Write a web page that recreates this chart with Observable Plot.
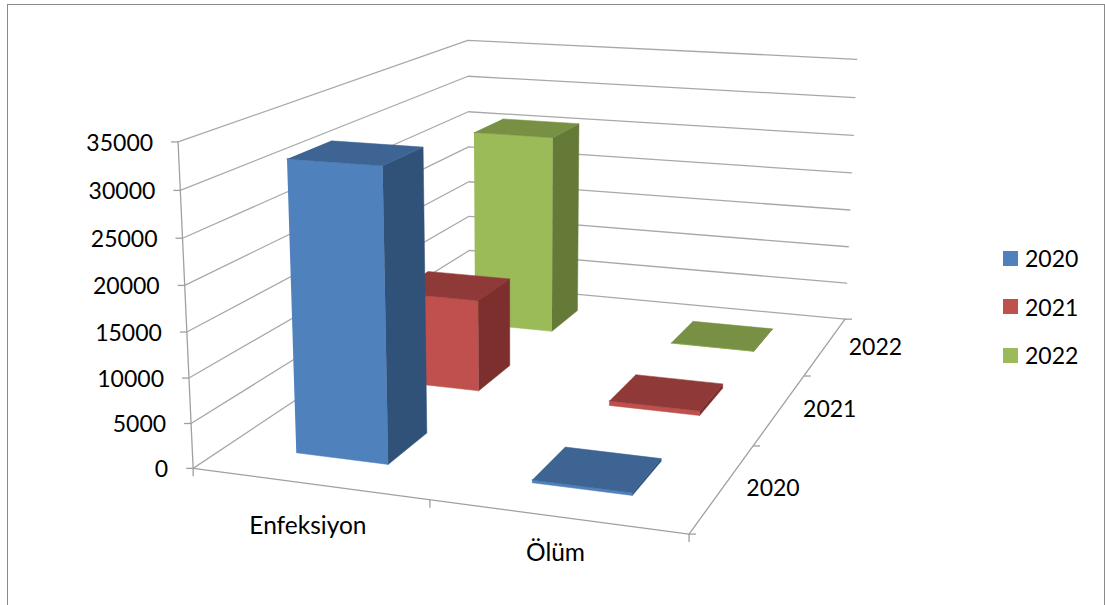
<!DOCTYPE html>
<html lang="tr">
<head>
<meta charset="utf-8">
<title>Enfeksiyon ve Ölüm</title>
<script src="https://cdn.jsdelivr.net/npm/d3@7"></script>
<script src="https://cdn.jsdelivr.net/npm/@observablehq/plot@0.6"></script>
<style>
  html, body { margin: 0; padding: 0; background: #fff; overflow: hidden; width: 1105px; height: 605px; }
  #frame { position: absolute; left: 7px; top: 4px; width: 1098px; height: 640px; border: 1.4px solid #8a8a8a; box-sizing: border-box; }
  #chart { position: absolute; left: 0; top: 0; }
  #legend { position: absolute; left: 1003px; top: 234px; font: 23px Lato, sans-serif; color: #000; }
  #legend div { display: flex; align-items: center; height: 48.5px; }
  #legend i { display: block; width: 15px; height: 15px; margin-right: 7px; }
</style>
</head>
<body>
<div id="frame"></div>
<div id="chart"></div>
<div id="legend"></div>
<script>
// Chart values
const categories = ["Enfeksiyon", "Ölüm"];
const seriesNames = ["2020", "2021", "2022"];
const values2020 = [32300, 300];
const values2021 = [11100, 550];
const values2022 = [25800, 50];
const valueTicks = [0, 5000, 10000, 15000, 20000, 25000, 30000, 35000];

const seriesValues = [values2020, values2021, values2022];
const valueMax = 35000;

// Face shades per series
const frontColors = ["#4F81BD", "#C0504D", "#9BBB59"];
const sideColors = ["#315278", "#7C2F2D", "#667A38"];
const topColors = ["#3D6492", "#8F3A38", "#789043"];

// Camera: a projective map from (category, depth, value) space to the page,
// solved by least squares from known positions of the plot box.
const cameraAnchors = [
  [0, 0, 0, 193, 467], [0, 0, 1, 177, 141],
  [0, 1, 0, 468, 284], [0, 1, 1, 468, 40],
  [1, 1, 0, 845, 318], [1, 1, 1, 856, 59],
  [1, 0, 0, 688, 534], [0.5, 0, 0, 429, 499],
  [0.15, 0.1, 0, 296, 453], [0.35, 0.1, 0, 388, 464],
  [0.35, 0.2333, 0, 427, 433]
];

function solveCamera(anchors) {
  const rows = [], rhs = [];
  for (const [a, b, c, px, py] of anchors) {
    const X = px / 1000, Y = py / 1000;
    rows.push([a, b, c, 1, 0, 0, 0, 0, -X * a, -X * b, -X * c]); rhs.push(X);
    rows.push([0, 0, 0, 0, a, b, c, 1, -Y * a, -Y * b, -Y * c]); rhs.push(Y);
  }
  const n = 11;
  const M = d3.range(n).map(i => d3.range(n + 1).map(j =>
    d3.sum(rows, (r, k) => r[i] * (j < n ? r[j] : rhs[k]))));
  for (let i = 0; i < n; i++) {
    let p = i;
    for (let r = i + 1; r < n; r++) if (Math.abs(M[r][i]) > Math.abs(M[p][i])) p = r;
    [M[i], M[p]] = [M[p], M[i]];
    for (let r = 0; r < n; r++) {
      if (r === i) continue;
      const f = M[r][i] / M[i][i];
      for (let c = i; c <= n; c++) M[r][c] -= f * M[i][c];
    }
  }
  return M.map((r, i) => r[n] / r[i]);
}

const cam = solveCamera(cameraAnchors);

// Project a chart position: u in category slots, v in series slots, w in value units.
function project(u, v, w) {
  const a = u / categories.length, b = v / seriesNames.length, c = w / valueMax;
  const d = cam[8] * a + cam[9] * b + cam[10] * c + 1;
  return {
    x: 1000 * (cam[0] * a + cam[1] * b + cam[2] * c + cam[3]) / d,
    y: 1000 * (cam[4] * a + cam[5] * b + cam[6] * c + cam[7]) / d
  };
}

// Box faces, farthest series first so nearer bars cover them
const gap = 0.3;
const faces = [];
for (let s = seriesNames.length - 1; s >= 0; s--) {
  categories.forEach((cat, i) => {
    const h = seriesValues[s][i];
    const u0 = i + gap, u1 = i + 1 - gap, v0 = s + gap, v1 = s + 1 - gap;
    const push = (name, color, pts) => pts.forEach(p =>
      faces.push({id: `${s}-${i}-${name}`, color, ...project(...p)}));
    push("front", frontColors[s], [[u0, v0, 0], [u1, v0, 0], [u1, v0, h], [u0, v0, h]]);
    push("side", sideColors[s], [[u1, v0, 0], [u1, v1, 0], [u1, v1, h], [u1, v0, h]]);
    push("top", topColors[s], [[u0, v0, h], [u1, v0, h], [u1, v1, h], [u0, v1, h]]);
  });
}

const nU = categories.length, nV = seriesNames.length;

// Wall grid: one polyline per value level, along the left wall then the back wall
const grid = valueTicks.flatMap(w =>
  [[0, 0, w], [0, nV, w], [nU, nV, w]].map(p => ({level: w, ...project(...p)})));

// Box edges that carry the axes
const edges = [
  [[0, 0, 0], [0, 0, valueMax]],
  [[0, 0, 0], [nU, 0, 0]],
  [[nU, 0, 0], [nU, nV, 0]]
].flatMap((seg, k) => seg.map(p => ({edge: k, ...project(...p)})));

const valueAxis = valueTicks.map(w => ({w, ...project(0, 0, w)}));
const categoryTicks = d3.range(nU + 1).map(i => project(i, 0, 0));
const depthTicks = d3.range(nV + 1).map(j => project(nU, j, 0));
const categoryLabels = categories.map((c, i) => ({c, i, ...project(i + 0.5, 0, 0)}));
const depthLabels = seriesNames.map((c, j) => ({c, ...project(nU, j + 0.5, 0)}));

const axisGray = "#a0a0a0";
const labelFont = 23;
const categoryFont = 24.5;

const chart = Plot.plot({
  width: 1105,
  height: 605,
  margin: 0,
  x: {type: "identity", axis: null},
  y: {type: "identity", axis: null},
  style: {background: "transparent", fontFamily: "Lato, sans-serif", color: "#000"},
  marks: [
    Plot.line(grid, {x: "x", y: "y", z: "level", stroke: "#a8a8a8", strokeWidth: 1.3}),
    Plot.line(edges, {x: "x", y: "y", z: "edge", stroke: axisGray, strokeWidth: 1.3}),
    Plot.link(valueAxis, {x1: "x", y1: "y", x2: d => d.x - 7, y2: "y", stroke: axisGray, strokeWidth: 1.3}),
    Plot.link(categoryTicks, {x1: "x", y1: "y", x2: "x", y2: d => d.y + 8, stroke: axisGray, strokeWidth: 1.3}),
    Plot.link(depthTicks, {x1: "x", y1: "y", x2: d => d.x + 7, y2: "y", stroke: axisGray, strokeWidth: 1.3}),
    Plot.line(faces, {x: "x", y: "y", z: "id", fill: "color", stroke: "color", strokeWidth: 0.5}),
    Plot.text(valueAxis, {x: d => d.x - 25, y: d => d.y + 1.5, text: d => String(d.w), textAnchor: "end", fontSize: labelFont, fill: "#000"}),
    Plot.text(categoryLabels, {x: d => d.x - 1, y: d => d.y + 42 - 5 * d.i, text: "c", fontSize: categoryFont, fill: "#000"}),
    Plot.text(depthLabels, {x: d => d.x + 50, y: d => d.y + 1, text: "c", fontSize: labelFont, fill: "#000"})
  ]
});
document.getElementById("chart").append(chart);

// Legend beside the plot
const legend = document.getElementById("legend");
seriesNames.forEach((name, s) => {
  const row = document.createElement("div");
  const swatch = document.createElement("i");
  swatch.style.background = frontColors[s];
  row.append(swatch, name);
  legend.append(row);
});
</script>
</body>
</html>
